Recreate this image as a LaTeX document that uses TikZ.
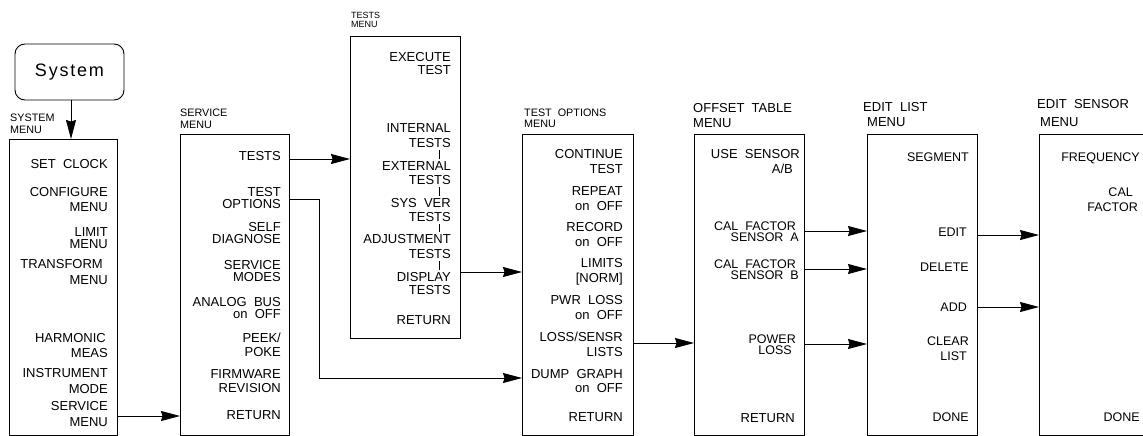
\documentclass[tikz,border=0pt]{standalone}
\usepackage{fontspec}
\setmainfont{Liberation Sans}
\usetikzlibrary{arrows.meta}
\begin{document}
\begin{tikzpicture}[x=1pt,y=-1pt,
  menubox/.style={draw, line width=0.9pt, inner sep=0pt, outer sep=0pt, anchor=north west},
  it/.style={anchor=east, inner sep=0pt, font=\fontsize{13}{15}\selectfont, text height=9.3pt, text depth=0pt},
  ita/.style={it, font=\fontsize{12.5}{14}\selectfont, text height=9pt},
  lab/.style={anchor=west, inner sep=0pt, font=\fontsize{10.8}{12}\selectfont, text height=7.7pt, text depth=0pt},
  labs/.style={lab, font=\fontsize{9}{11}\selectfont, text height=6.5pt},
  labb/.style={lab, font=\fontsize{13}{15}\selectfont, text height=9.3pt},
  arr/.style={line width=0.9pt, -{Stealth[length=19pt,width=10pt,inset=1.5pt]}},
  bar/.style={line width=0.8pt, shorten <=2pt, shorten >=2pt}]
\useasboundingbox (0,0) rectangle (1143,436);
\clip (0,0) rectangle (1143,436);

% ---------- boxes ----------
\node[draw, line width=0.9pt, rounded corners=10pt, minimum width=109pt, minimum height=56pt,
      inner sep=0pt, outer sep=0pt, font=\fontsize{18}{20}\selectfont\addfontfeature{LetterSpace=10}] (system) at (69.5,72) {System};
\node[menubox, minimum width=108pt, minimum height=296pt] (sys)   at (9,139)   {};
\node[menubox, minimum width=109pt, minimum height=301pt] (svc)   at (180,134) {};
\node[menubox, minimum width=110pt, minimum height=302pt] (tests) at (350,36)  {};
\node[menubox, minimum width=111pt, minimum height=301pt] (topt)  at (522,134) {};
\node[menubox, minimum width=110pt, minimum height=301pt] (offs)  at (694,134) {};
\node[menubox, minimum width=110pt, minimum height=301pt] (elist) at (867,134) {};
\node[menubox, minimum width=150pt, minimum height=301pt] (esens) at (1039,134) {};

% ---------- titles ----------
\node[lab] (sysT1) at (10,118) {SYSTEM};
\node[lab] (sysT2) at (10,130) {MENU};
\node[lab] (svcT1) at (180,113) {SERVICE};
\node[lab] (svcT2) at (180,125) {MENU};
\node[labs] (tstT1) at (351,15) {TESTS};
\node[labs] (tstT2) at (351,24.5) {MENU};
\node[lab] (topT1) at (524,113) {TEST\ \ OPTIONS};
\node[lab] (topT2) at (524,124) {MENU};
\node[labb] (offT1) at (693,108) {OFFSET\ \ TABLE};
\node[labb] (offT2) at (693,123) {MENU};
\node[labb] (elT1) at (863,107) {EDIT\ \ LIST};
\node[labb] (elT2) at (867,122) {MENU};
\node[labb] (esT1) at (1037,104) {EDIT\ \ SENSOR};
\node[labb] (esT2) at (1040,122) {MENU};

% ---------- SYSTEM MENU ----------
\node[it] (s1)  at (108,164) {SET\ \ CLOCK};
\node[it] (s2a) at (108,192) {CONFIGURE};
\node[it] (s2b) at (108,207) {MENU};
\node[it] (s3a) at (108,232) {LIMIT};
\node[it] (s3b) at (108,244) {MENU};
\node[it] (s4a) at (103,264) {TRANSFORM};
\node[it] (s4b) at (108,280) {MENU};
\node[it] (s5a) at (106,338) {HARMONIC};
\node[it] (s5b) at (108,353) {MEAS};
\node[it] (s6a) at (108,373) {INSTRUMENT};
\node[it] (s6b) at (108,389) {MODE};
\node[it] (s7a) at (108,406) {SERVICE};
\node[it] (s7b) at (108,422) {MENU};

% ---------- SERVICE MENU ----------
\node[it] (v1)  at (281,156) {TESTS};
\node[it] (v2a) at (281,192) {TEST};
\node[it] (v2b) at (281,204) {OPTIONS};
\node[it] (v3a) at (281,227) {SELF};
\node[it] (v3b) at (281,239) {DIAGNOSE};
\node[it] (v4a) at (281,265) {SERVICE};
\node[it] (v4b) at (281,277) {MODES};
\node[it] (v5a) at (281,302) {ANALOG\ \ BUS};
\node[it] (v5b) at (281,314) {on\ \ OFF};
\node[it] (v6a) at (281,338) {PEEK/};
\node[it] (v6b) at (281,352) {POKE};
\node[it] (v7a) at (281,374) {FIRMWARE};
\node[it] (v7b) at (281,388) {REVISION};
\node[it] (v8)  at (281,415) {RETURN};

% ---------- TESTS MENU ----------
\node[it] (t1a) at (451,57)  {EXECUTE};
\node[it] (t1b) at (451,70)  {TEST};
\node[it] (t2a) at (451,128) {INTERNAL};
\node[it] (t2b) at (451,143) {TESTS};
\node[it] (t3a) at (451,166) {EXTERNAL};
\node[it] (t3b) at (451,180) {TESTS};
\node[it] (t4a) at (451,203) {SYS\ \ VER};
\node[it] (t4b) at (451,217) {TESTS};
\node[it] (t5a) at (451,239) {ADJUSTMENT};
\node[it] (t5b) at (451,254) {TESTS};
\node[it] (t6a) at (451,277) {DISPLAY};
\node[it] (t6b) at (451,290) {TESTS};
\node[it] (t7)  at (451,320) {RETURN};
\draw[bar] ([xshift=-12pt]t2b.south east) -- ([xshift=-12pt]t3a.north east);
\draw[bar] ([xshift=-12pt]t3b.south east) -- ([xshift=-12pt]t4a.north east);
\draw[bar] ([xshift=-12pt]t4b.south east) -- ([xshift=-12pt]t5a.north east);
\draw[bar] ([xshift=-12pt]t5b.south east) -- ([xshift=-12pt]t6a.north east);

% ---------- TEST OPTIONS MENU ----------
\node[it] (o1a) at (623,154) {CONTINUE};
\node[it] (o1b) at (623,169) {TEST};
\node[it] (o2a) at (623,191) {REPEAT};
\node[it] (o2b) at (623,206) {on\ \ OFF};
\node[it] (o3a) at (623,227) {RECORD};
\node[it] (o3b) at (623,242) {on\ \ OFF};
\node[it] (o4a) at (623,263) {LIMITS};
\node[it] (o4b) at (623,278) {[NORM]};
\node[it] (o5a) at (623,300) {PWR\ \ LOSS};
\node[it] (o5b) at (623,315) {on\ \ OFF};
\node[it] (o6a) at (623,337) {LOSS/SENSR};
\node[it] (o6b) at (623,352) {LISTS};
\node[it] (o7a) at (623,374) {DUMP\ \ GRAPH};
\node[it] (o7b) at (623,388) {on\ \ OFF};
\node[it] (o8)  at (623,417) {RETURN};

% ---------- OFFSET TABLE MENU ----------
\node[it]  (f1a) at (800,154) {USE\ \ SENSOR};
\node[it]  (f1b) at (793,169) {A/B};
\node[ita] (f2a) at (796,226) {CAL\ \ FACTOR};
\node[ita] (f2b) at (799,237) {SENSOR\ \ A};
\node[ita] (f3a) at (796,264) {CAL\ \ FACTOR};
\node[ita] (f3b) at (799,275) {SENSOR\ \ B};
\node[ita] (f4a) at (796,339) {POWER};
\node[ita] (f4b) at (792,350) {LOSS};
\node[it]  (f5)  at (795,418) {RETURN};

% ---------- EDIT LIST MENU ----------
\node[ita] (e1)  at (969,157) {SEGMENT};
\node[ita] (e2)  at (967,232) {EDIT};
\node[ita] (e3)  at (969,267) {DELETE};
\node[ita] (e4)  at (967,307) {ADD};
\node[ita] (e5a) at (969,341) {CLEAR};
\node[ita] (e5b) at (967,356) {LIST};
\node[ita] (e6)  at (969,417) {DONE};

% ---------- EDIT SENSOR MENU ----------
\node[ita] (n1)  at (1140,157) {FREQUENCY};
\node[ita] (n2a) at (1133,192) {CAL};
\node[ita] (n2b) at (1138,207) {FACTOR};
\node[ita] (n3)  at (1140,417) {DONE};

% ---------- connectors ----------
\draw[arr] (system.south -| 71,0) -- (sys.north -| 71,0);
\draw[arr] (sys.east |- 0,416) -- (svc.west |- 0,416);
\draw[arr] (svc.east |- 0,159) -- (tests.west |- 0,159);
\draw[arr] (svc.east |- 0,199) -| (319,378) -- (topt.west |- 0,378);
\draw[arr] (tests.east |- 0,272) -- (topt.west |- 0,272);
\draw[arr] (topt.east |- 0,343) -- (offs.west |- 0,343);
\draw[arr] (offs.east |- 0,231) -- (elist.west |- 0,231);
\draw[arr] (offs.east |- 0,269) -- (elist.west |- 0,269);
\draw[arr] (offs.east |- 0,344) -- (elist.west |- 0,344);
\draw[arr] (elist.east |- 0,235) -- (esens.west |- 0,235);
\draw[arr] (elist.east |- 0,307) -- (esens.west |- 0,307);
\end{tikzpicture}
\end{document}
